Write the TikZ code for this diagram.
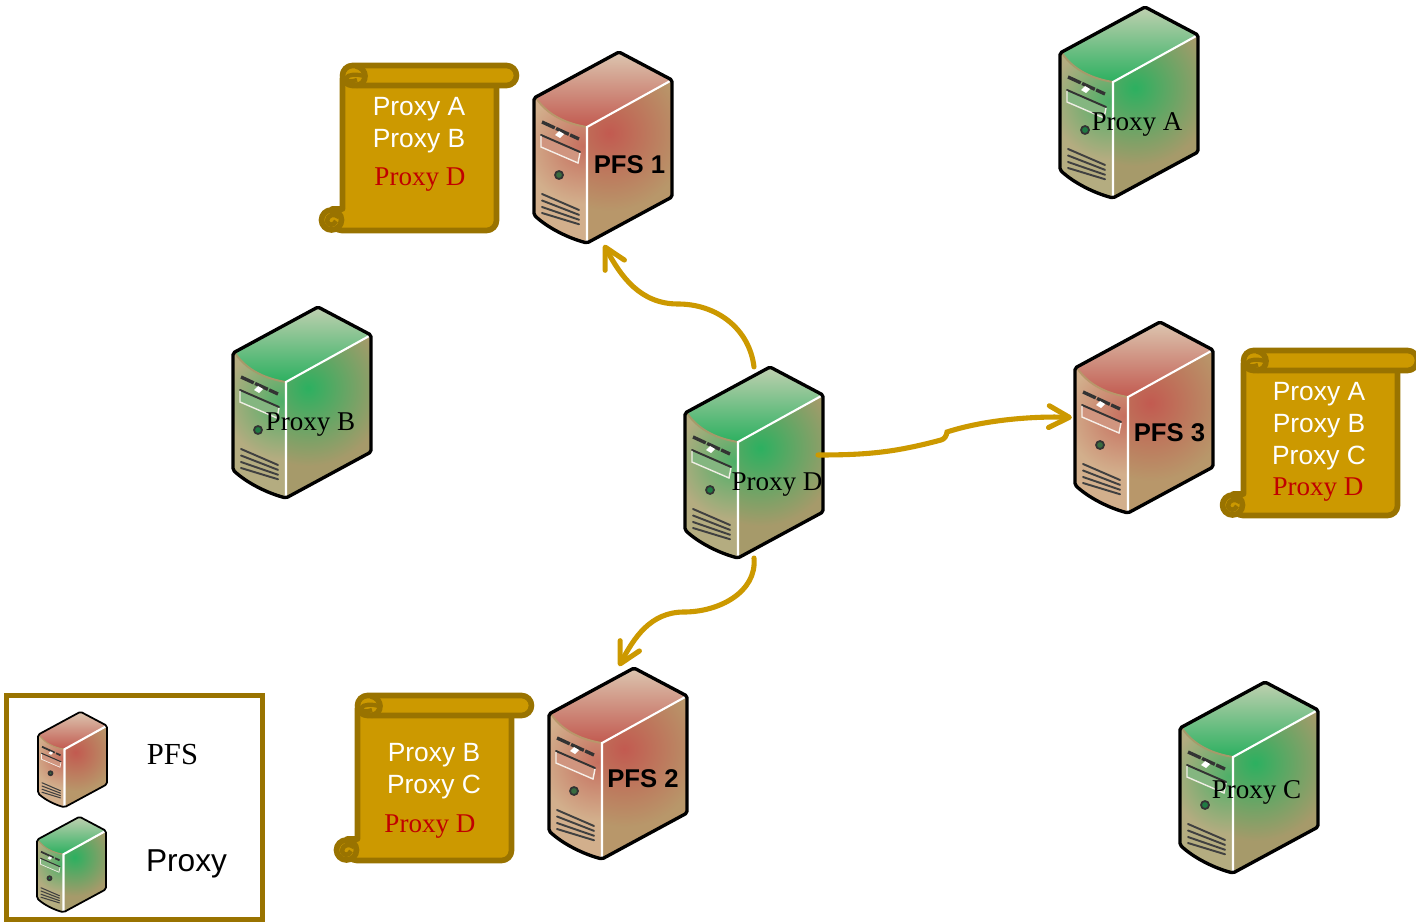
\documentclass[tikz,border=0pt]{standalone}
\usepackage{fontspec}
\setmainfont{Liberation Serif}
\setsansfont{Liberation Sans}
\usepackage{xcolor}
\usetikzlibrary{arrows.meta}

\definecolor{pfsglow}{HTML}{C25A50}
\definecolor{pfspale}{HTML}{DCC6B0}
\definecolor{pfsedge}{HTML}{B8976A}
\definecolor{pfsside}{HTML}{D2AF8C}
\definecolor{proxyglow}{HTML}{2CB060}
\definecolor{proxypale}{HTML}{C0D0B0}
\definecolor{proxyedge}{HTML}{A69A6A}
\definecolor{proxyside}{HTML}{B4AC80}
\definecolor{scrollgold}{HTML}{CC9900}
\definecolor{scrollrim}{HTML}{997300}
\definecolor{linkgold}{HTML}{CC9900}
\definecolor{proxyred}{HTML}{C00000}

\tikzset{
    srvbox/.style={inner sep=0pt, outer sep=0pt, minimum width=1.4cm, minimum height=1.91cm},
    srvline/.style={line width=.95pt, line join=round},
    srvthin/.style={line width=.55pt, line cap=round},
    srvedge/.style={line width=.4pt},
    scrollline/.style={draw=scrollrim, line width=1.6pt, line join=round},
    pfstext/.style={font=\sffamily\bfseries\fontsize{7.3}{9}\selectfont, inner sep=0pt},
    proxytext/.style={font=\rmfamily\fontsize{7.7}{9}\selectfont, inner sep=0pt},
    listtext/.style={font=\sffamily\fontsize{7.5}{9}\selectfont, text=white, inner sep=0pt},
    redtext/.style={font=\rmfamily\fontsize{7.7}{9}\selectfont, text=proxyred, inner sep=0pt},
    legendbox/.style={draw=scrollrim, line width=1.4pt, fill=white, inner sep=0pt, minimum width=2.56cm, minimum height=2.245cm},
    legendsrv/.style={inner sep=0pt, outer sep=0pt, minimum width=.7cm, minimum height=.955cm},
    link/.style={draw=linkgold, line width=1.45pt, line cap=round, -{Straight Barb[length=5.8pt,width=6.2pt,round]}, shorten >=.6pt},
    pics/server/.style={code={
        \begin{scope}[shift={(-70,-49.5)}]
            % faces
            \begin{scope}
                \clip (1,0) -- (3,0) .. controls (15,18) and (35,26) .. (54,29) -- (54,145) .. controls (35,140) and (15,130) .. (1,117) -- cycle;
                \fill[#1side] (-5,-5) rectangle (60,150);
                \shade[inner color=#1glow!75!#1side, outer color=#1side] (50,48) circle (58);
            \end{scope}
            \begin{scope}
                \clip (54,29) -- (139,-18) -- (139,99) -- (54,145) -- cycle;
                \fill[#1edge] (54,-20) rectangle (140,150);
                \shade[inner color=#1glow, outer color=#1edge] (76,35) circle (78);
            \end{scope}
            \shade[top color=#1pale, bottom color=#1glow] (1,0) -- (86,-46) -- (139,-18) -- (54,29) .. controls (35,26) and (15,18) .. (3,0) -- cycle;
            % front panel
            \draw[srvthin, #1edge] (3,0) .. controls (15,18) and (35,26) .. (54,29);
            \draw[srvline, black!80, dash pattern=on 4pt off .4pt] (9,24) -- (46,41);
            \fill[white] (26,33) -- (31,36) -- (27,40) -- (22,37) -- cycle;
            \fill[#1glow!45!#1side!90!white] (8,37) -- (47,54) -- (45,65) -- (8,49) -- cycle;
            \draw[srvthin, black!80] (8,37) -- (47,54);
            \draw[srvedge, white!80!#1side] (8,38) -- (8,49) -- (45,65) -- (47,55);
            \filldraw[fill=#1glow!25!proxyglow!70!black, draw=black!80, line width=.5pt] (26,77) circle (4);
            \foreach \vent in {0,6.5,13,19} {
                \draw[srvthin, black!75] (9,96+\vent) -- (46,112+\vent*.75);
            }
            % outline
            \draw[white, line width=.6pt] (139,-18) -- (54,29) -- (54,145);
            \draw[srvline, rounded corners=.5pt] (1,0) -- (86,-46) -- (139,-18) -- (139,99) -- (54,145) .. controls (35,140) and (15,130) .. (1,117) -- cycle;
        \end{scope}
    }},
    pics/scroll/.style={code={
        \draw[scrollline, fill=scrollgold, rounded corners=2.85pt] (23.5,15) -- (177.5,15) -- (177.5,167.5) -- (13,167.5) [sharp corners] -- (13,146) -- (23.5,146) -- cycle;
        \filldraw[scrollline, fill=scrollgold] (12.5,157) circle (10);
        \draw[scrollline, line width=1.3pt] (20,154) .. controls (15,150) and (8,152) .. (8,158) .. controls (9,163) and (15,163) .. (17,158);
        \filldraw[scrollline, fill=scrollgold, rounded corners=2.85pt] (23.5,2.5) rectangle (197.5,22.5);
        \draw[scrollline] (37,3) .. controls (43,4) and (46,9) .. (46,13) .. controls (46,18) and (43,22) .. (37,22.5);
        \draw[scrollline, line width=1.2pt] (45,13) .. controls (38,11) and (29,11) .. (27,15) .. controls (27,19) and (33,19) .. (38,17);
    }}
}

\begin{document}
\begin{tikzpicture}[x=0.01cm, y=-0.01cm]
    \useasboundingbox (0,0) rectangle (1416,922);

    \node (pfs1)   at (603,147.5)  [srvbox] {};
    \node (pfs2)   at (618,763.5)  [srvbox] {};
    \node (pfs3)   at (1144,417.5) [srvbox] {};
    \node (proxya) at (1129,102.5) [srvbox] {};
    \node (proxyb) at (302,402.5)  [srvbox] {};
    \node (proxyc) at (1249,777.5) [srvbox] {};
    \node (proxyd) at (754,462.5)  [srvbox] {};

    \foreach \pfsnode in {pfs1,pfs2,pfs3} {
        \pic at (\pfsnode) {server=pfs};
    }
    \foreach \proxynode in {proxya,proxyb,proxyc,proxyd} {
        \pic at (\proxynode) {server=proxy};
    }

    \node (pfs1text)   at (629.5,165)   [pfstext]   {PFS 1};
    \node (pfs2text)   at (643,779)     [pfstext]   {PFS 2};
    \node (pfs3text)   at (1169.5,433)  [pfstext]   {PFS 3};
    \node (proxyatext) at (1137,124)    [proxytext] {Proxy A};
    \node (proxybtext) at (310.5,424.5) [proxytext] {Proxy B};
    \node (proxyctext) at (1256.5,792)  [proxytext] {Proxy C};
    \node (proxydtext) at (777,484.5)   [proxytext] {Proxy D};

    % lists
    \pic at (319,63)   {scroll};
    \pic at (334,693)  {scroll};
    \pic at (1220,348) {scroll};

    \node (list1a) at (419,109)  [listtext] {Proxy A};
    \node (list1b) at (419,141)  [listtext] {Proxy B};
    \node (list1d) at (420,180)  [redtext]  {Proxy D};
    \node (list2b) at (434,755)  [listtext] {Proxy B};
    \node (list2c) at (434,787)  [listtext] {Proxy C};
    \node (list2d) at (430,827)  [redtext]  {Proxy D};
    \node (list3a) at (1319,394) [listtext] {Proxy A};
    \node (list3b) at (1319,426) [listtext] {Proxy B};
    \node (list3c) at (1319,458) [listtext] {Proxy C};
    \node (list3d) at (1318,490) [redtext]  {Proxy D};

    % links
    \coordinate (turnup)    at (678,304);
    \coordinate (kinklow)   at (941,440);
    \coordinate (kinkhigh)  at (947,432);
    \coordinate (turndown)  at (684,612);
    \coordinate (proxydout) at (818,455);

    \draw[link] (proxyd.north) to[out=97,in=0] (turnup) to[out=180,in=-62] (pfs1.south);
    \draw[link] (proxydout) to[out=0,in=195] (kinklow) to[out=15,in=-100] (kinkhigh) to[out=18,in=178,looseness=.8] (pfs3.west);
    \draw[link] (proxyd.south) to[out=-85,in=0] (turndown) to[out=180,in=62] (pfs2.north);

    % legend
    \node (legend)      at (134.5,807.5) [legendbox] {};
    \node (legendpfs)   at (72.5,759.5)  [legendsrv] {};
    \node (legendproxy) at (71.5,864.5)  [legendsrv] {};
    \begin{scope}[srvline/.style={line width=.5pt, line join=round}, srvthin/.style={line width=.3pt, line cap=round}, srvedge/.style={line width=.2pt}]
        \pic[scale=.5] at (legendpfs) {server=pfs};
        \pic[scale=.5] at (legendproxy) {server=proxy};
    \end{scope}
    \node (legendpfstext)   at (172.5,755) [font=\rmfamily\fontsize{8.7}{10}\selectfont, inner sep=0pt] {PFS};
    \node (legendproxytext) at (186.5,864) [font=\sffamily\fontsize{9}{10}\selectfont, inner sep=0pt] {Proxy};
\end{tikzpicture}
\end{document}
